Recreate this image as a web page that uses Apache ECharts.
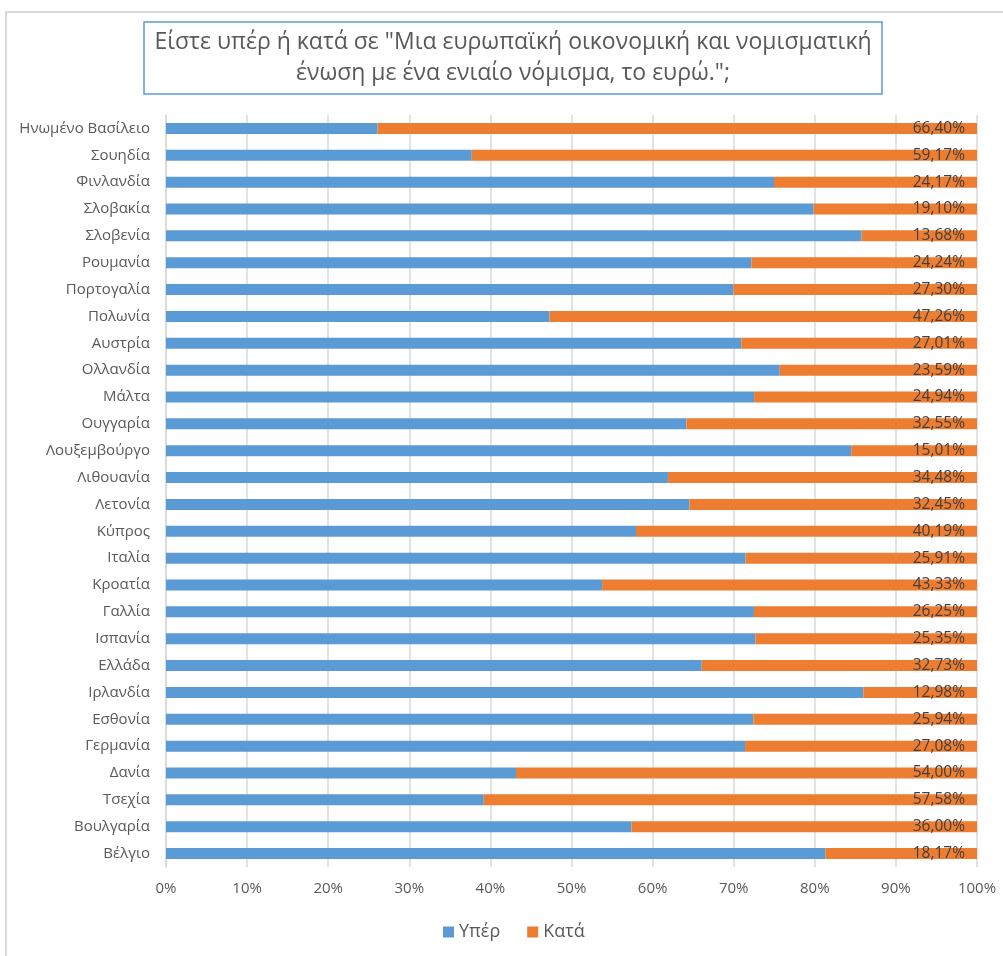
<!DOCTYPE html>
<html>
<head>
<meta charset="utf-8">
<script src="https://cdn.jsdelivr.net/npm/echarts@6/dist/echarts.min.js"></script>
<style>
  html, body { margin: 0; padding: 0; background: #fff; }
  #frame { position: absolute; left: 5px; top: 11px; width: 1100px; height: 1100px;
           border-left: 2px solid #d9d9d9; border-top: 2px solid #d9d9d9; }
  #myChart { position: absolute; left: 0; top: 0; width: 1003px; height: 956px; }
</style>
</head>
<body>
<div id="frame"></div>
<div id="myChart"></div>
<script>
// χώρες από πάνω προς τα κάτω
const countries = ["Ηνωμένο Βασίλειο", "Σουηδία", "Φινλανδία", "Σλοβακία", "Σλοβενία", "Ρουμανία",
  "Πορτογαλία", "Πολωνία", "Αυστρία", "Ολλανδία", "Μάλτα", "Ουγγαρία", "Λουξεμβούργο", "Λιθουανία",
  "Λετονία", "Κύπρος", "Ιταλία", "Κροατία", "Γαλλία", "Ισπανία", "Ελλάδα", "Ιρλανδία", "Εσθονία",
  "Γερμανία", "Δανία", "Τσεχία", "Βουλγαρία", "Βέλγιο"];
const yper = [23.45, 35.81, 72.4, 75.7, 82.5, 62.9, 63.6, 42.4, 65.9, 73.4, 65.8, 58.3, 81.8, 56.0,
  59.1, 55.4, 64.9, 50.4, 69.2, 67.4, 63.7, 79.6, 68.1, 67.6, 41.0, 37.1, 48.5, 79.0];
const kata = [66.40, 59.17, 24.17, 19.10, 13.68, 24.24, 27.30, 47.26, 27.01, 23.59, 24.94, 32.55, 15.01,
  34.48, 32.45, 40.19, 25.91, 43.33, 26.25, 25.35, 32.73, 12.98, 25.94, 27.08, 54.00, 57.58, 36.00, 18.17];
const xTicks = [0, 10, 20, 30, 40, 50, 60, 70, 80, 90, 100];

// 100% στοίβαξη
const yperPct = yper.map((v, i) => v / (v + kata[i]) * 100);
const kataPct = kata.map((v, i) => v / (yper[i] + v) * 100);

let myChart = echarts.init(document.getElementById("myChart"));
const txt = "#595959";
const font = "Open Sans";

let option = {
  animation: false,
  title: {
    text: 'Είστε υπέρ ή κατά σε "Μια ευρωπαϊκή οικονομική και νομισματική\nένωση με ένα ενιαίο νόμισμα, το ευρώ.";',
    left: 502,
    top: 22,
    textAlign: "center",
    padding: [5, 11, 5, 11],
    borderColor: "#5b9bd5",
    borderWidth: 1.5,
    textStyle: { color: txt, fontSize: 23, fontWeight: "normal", fontFamily: font, lineHeight: 31, align: "center" },
  },
  legend: {
    data: ["Υπέρ", "Κατά"],
    bottom: 10,
    left: 438,
    icon: "rect",
    itemWidth: 11,
    itemHeight: 11,
    itemGap: 27,
    textStyle: { color: txt, fontSize: 18, fontFamily: font },
  },
  grid: { left: 166, right: 26, top: 115, bottom: 89 },
  xAxis: {
    type: "value",
    min: 0,
    max: 100,
    interval: 10,
    axisLabel: { color: txt, fontSize: 15, fontFamily: font, margin: 14,
      formatter: (v) => (xTicks.includes(v) ? v + "%" : "") },
    axisLine: { show: false },
    axisTick: { show: false },
    splitLine: { lineStyle: { color: "#d9d9d9", width: 1.5 } },
  },
  yAxis: {
    type: "category",
    data: countries,
    inverse: true,
    axisLabel: { color: txt, fontSize: 15, fontFamily: font, margin: 16 },
    axisLine: { lineStyle: { color: "#d9d9d9", width: 1.5 } },
    axisTick: { show: false },
  },
  series: [
    {
      name: "Υπέρ",
      type: "bar",
      stack: "all",
      barWidth: 11,
      data: yperPct,
      itemStyle: { color: "#5b9bd5" },
    },
    {
      name: "Κατά",
      type: "bar",
      stack: "all",
      barWidth: 11,
      data: kataPct,
      itemStyle: { color: "#ed7d31" },
      label: {
        show: true,
        position: "insideRight",
        distance: 12,
        color: "#404040",
        fontSize: 15.5,
        fontFamily: font,
        formatter: (p) => kata[p.dataIndex].toFixed(2).replace(".", ",") + "%",
      },
    },
  ],
};
myChart.setOption(option);
</script>
</body>
</html>
